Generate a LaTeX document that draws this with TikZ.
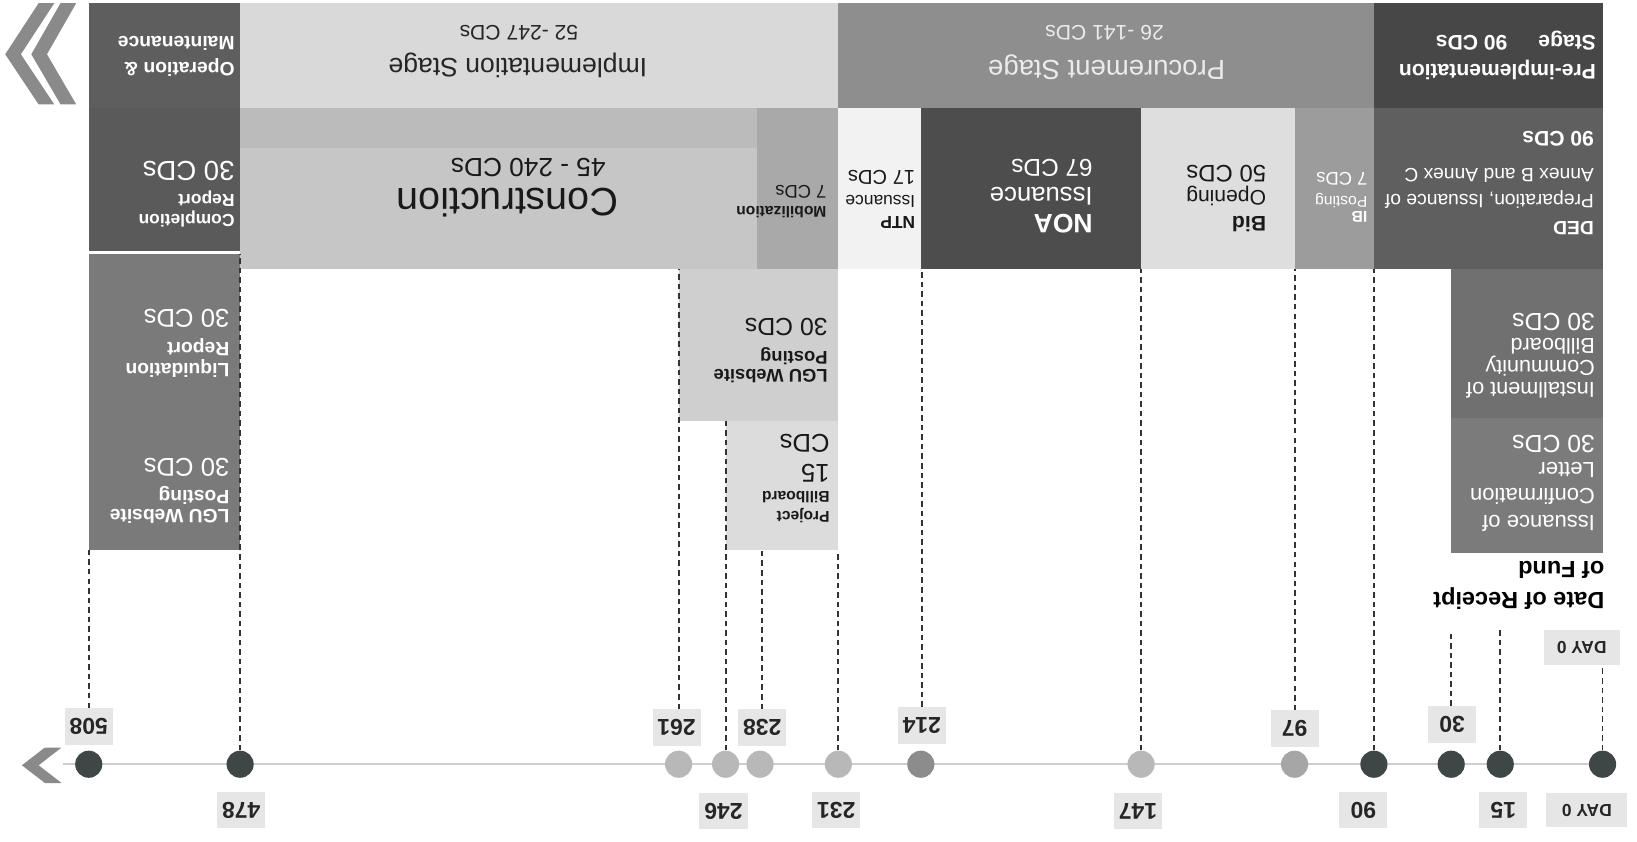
\documentclass[tikz,border=0pt]{standalone}
\usepackage{fontspec}
\setmainfont{Liberation Sans}
\usetikzlibrary{fit}
\definecolor{cPre}{HTML}{474747}
\definecolor{cProc}{HTML}{8E8E8E}
\definecolor{cImpl}{HTML}{D9D9D9}
\definecolor{cOM}{HTML}{5E5E5E}
\definecolor{cDED}{HTML}{5F5F5F}
\definecolor{cIB}{HTML}{9C9C9C}
\definecolor{cBid}{HTML}{DEDEDE}
\definecolor{cNOA}{HTML}{4D4D4D}
\definecolor{cNTP}{HTML}{F2F2F2}
\definecolor{cMob}{HTML}{A9A9A9}
\definecolor{cCon}{HTML}{C6C6C6}
\definecolor{cConB}{HTML}{BBBBBB}
\definecolor{cComp}{HTML}{5A5A5A}
\definecolor{cLiq}{HTML}{7A7A7A}
\definecolor{cLGUm}{HTML}{CFCFCF}
\definecolor{cPB}{HTML}{DCDCDC}
\definecolor{cInst}{HTML}{707070}
\definecolor{cConf}{HTML}{7B7B7B}
\definecolor{cChev}{HTML}{8A8A8A}
\definecolor{cLab}{HTML}{E6E6E6}
\definecolor{cDotD}{HTML}{3F4646}
\definecolor{cDotM}{HTML}{8C8C8C}
\definecolor{cDotL}{HTML}{B8B8B8}
\definecolor{cLine}{HTML}{CDCDCD}
\definecolor{cDash}{HTML}{333333}
\newcommand\fs[2]{\fontsize{#1}{#2}\selectfont}
\begin{document}
\begin{tikzpicture}[x=0.02cm,y=-0.02cm,
  box/.style={inner sep=0pt, outer sep=0pt, draw=none},
  tr/.style={rotate=180, anchor=west, align=left, inner sep=0pt},
  tc/.style={rotate=180, align=center, inner sep=0pt},
  dot/.style={circle, minimum size=0.52cm, inner sep=0pt},
  lab/.style={fill=cLab, minimum width=0.92cm, minimum height=0.7cm, inner sep=0pt, text=black!85, font=\bfseries\fs{12.5}{14}},
  daylab/.style={fill=cLab, minimum width=1.45cm, minimum height=0.66cm, inner sep=0pt, text=black!85, font=\bfseries\fs{9.5}{11}},
  dsh/.style={draw=cDash, line width=1pt, dash pattern=on 3pt off 2.2pt},
  tl/.style={draw=cLine, line width=1pt}
]
\useasboundingbox (0,0) rectangle (1568,806);

% ---------- top chevrons ----------
\fill[cChev] (5,52) -- (37,3) -- (52,3) -- (20,52) -- (52,100) -- (37,100) -- cycle;
\fill[cChev] (30,52) -- (58,3) -- (73,3) -- (45,52) -- (73,100) -- (58,100) -- cycle;

% ---------- stage row ----------
\node[box, fill=cOM,   fit={(85,3) (230,103)}]    (om) {};
\node[box, fill=cImpl, fit={(230,3) (803,103)}]   (impl) {};
\node[box, fill=cProc, fit={(803,3) (1316,103)}]  (proc) {};
\node[box, fill=cPre,  fit={(1316,3) (1535,103)}] (pre) {};

\node[tr, text=white, font=\bfseries\fs{10.5}{13.7}] (tom) at (225,54) {Operation \&\\Maintenance};
\node[tc, text=black!85, font=\fs{14.5}{16}] (timpl) at (496,63) {Implementation Stage};
\node[tc, text=black!85, font=\fs{11.5}{13}] (timpl2) at (497,31) {52 -247 CDs};
\node[tc, text=white!92!black, font=\fs{15}{17}] (tproc) at (1060,64) {Procurement Stage};
\node[tc, text=white!92!black, font=\fs{11.5}{13}] (tproc2) at (1058,31) {26 -141 CDs};
\node[tr, text=white, font=\bfseries\fs{11.5}{16}] (tpre) at (1529,53) {Pre-implementation\\Stage\hspace{17pt}90 CDs};

% ---------- activity row ----------
\node[box, fill=cComp, fit={(85,103) (230,240)}]   (comp) {};
\node[box, fill=cCon,  fit={(230,103) (725,258)}]  (con) {};
\node[box, fill=cConB, fit={(230,103) (725,142)}]  (conband) {};
\node[box, fill=cMob,  fit={(725,103) (803,258)}]  (mob) {};
\node[box, fill=cNTP,  fit={(803,103) (882,258)}]  (ntp) {};
\node[box, fill=cNOA,  fit={(882,103) (1093,258)}] (noa) {};
\node[box, fill=cBid,  fit={(1093,103) (1240,258)}] (bid) {};
\node[box, fill=cIB,   fit={(1240,103) (1316,258)}] (ib) {};
\node[box, fill=cDED,  fit={(1316,103) (1535,258)}] (ded) {};

\node[tr, text=white, font=\bfseries\fs{9.5}{10.8}] (tcomp) at (225,186)
  {Completion\\Report\\[4.6pt]{\mdseries\fs{15}{16}30 CDs}};
\node[tc, text=black!90, font=\fs{21.5}{24}] (tcon) at (486,194) {Construction};
\node[tc, text=black!90, font=\fs{14.3}{16}] (tcon2) at (506,160) {45 - 240 CDs};
\node[tr, text=black!90, font=\bfseries\fs{8.5}{11.4}] (tmob) at (792,193)
  {Mobilization\\{\mdseries\fs{10}{11}7 CDs}};
\node[tr, text=black!90, font=\fs{9.5}{11.4}] (tntp) at (877,191)
  {{\bfseries NTP}\\Issuance\\[2pt]{\fs{11}{12}17 CDs}};
\node[tr, text=white, font=\fs{14}{14.8}] (tnoa) at (1047,188)
  {{\bfseries\fs{14.5}{15}NOA}\\Issuance\\{\fs{13.3}{14}67 CDs}};
\node[tr, text=black!90, font=\fs{11.5}{14}] (tbid) at (1213,190)
  {{\bfseries Bid}\\Opening\\{\fs{13}{14}50 CDs}};
\node[tr, text=white, font=\fs{8.5}{8.5}] (tib) at (1310,189)
  {{\bfseries IB}\\Posting\\[3.5pt]{\fs{10}{11}7 CDs}};
\node[tr, text=white, font=\fs{10.5}{14.2}] (tded) at (1527,175)
  {{\bfseries DED}\\Preparation, Issuance of\\Annex B and Annex C\\[6.3pt]{\bfseries\fs{11.5}{13}90 CDs}};

% ---------- lower boxes ----------
\node[box, fill=cLiq,  fit={(85,243) (230,385)}]   (liq) {};
\node[box, fill=cLiq,  fit={(85,385) (230,527)}]   (lgul) {};
\node[box, fill=cLGUm, fit={(650,258) (803,403)}]  (lgum) {};
\node[box, fill=cPB,   fit={(695,403) (803,527)}]  (pb) {};
\node[box, fill=cInst, fit={(1390,258) (1535,400)}] (inst) {};
\node[box, fill=cConf, fit={(1390,400) (1535,530)}] (conf) {};

\node[tr, text=white, font=\bfseries\fs{10.5}{11.4}] (tliq) at (220,329)
  {Liquidation\\Report\\[5pt]{\mdseries\fs{14}{15}30 CDs}};
\node[tr, text=white, font=\bfseries\fs{10.5}{10.5}] (tlgul) at (220,470)
  {LGU Website\\Posting\\[4.5pt]{\mdseries\fs{14}{15}30 CDs}};
\node[tr, text=black!90, font=\bfseries\fs{10}{10}] (tlgum) at (793,336)
  {LGU Website\\Posting\\[5.5pt]{\mdseries\fs{13.5}{15}30 CDs}};
\node[tr, text=black!90, font=\bfseries\fs{8.5}{10.8}] (tpb) at (795,458)
  {Project\\Billboard\\[4pt]{\mdseries\fs{14}{16}15}\\[5.7pt]{\mdseries\fs{14}{16}CDs}};
\node[tr, text=white, font=\fs{11.8}{12}] (tinst) at (1528,341)
  {Installment of\\Community\\Billboard\\[1.8pt]{\fs{13.5}{15}30 CDs}};
\node[tr, text=white, font=\fs{12}{14.5}] (tconf) at (1528,463)
  {Issuance of\\Confirmation\\Letter\\{\fs{13.5}{15}30 CDs}};
\node[tr, text=black, font=\bfseries\fs{12.8}{17}] (trec) at (1537,561)
  {Date of Receipt\\of Fund};

% ---------- timeline ----------
\coordinate (tlL) at (60,732);
\coordinate (tlR) at (1535,732);
\draw[tl] (tlL) -- (tlR);
\fill[cChev] (21,733) -- (43,716) -- (59,716) -- (37,733) -- (59,750) -- (43,750) -- cycle;

\node[dot, fill=cDotD] (d0)   at (1535,732) {};
\node[dot, fill=cDotD] (d15)  at (1437,732) {};
\node[dot, fill=cDotD] (d30)  at (1390,732) {};
\node[dot, fill=cDotD] (d90)  at (1316,732) {};
\node[dot, fill=cDotL!90!black] (d97)  at (1240,732) {};
\node[dot, fill=cDotL] (d147) at (1093,732) {};
\node[dot, fill=cDotM] (d214) at (882,732) {};
\node[dot, fill=cDotL] (d231) at (803,732) {};
\node[dot, fill=cDotL] (d238) at (728,732) {};
\node[dot, fill=cDotL] (d246) at (695,732) {};
\node[dot, fill=cDotL] (d261) at (650,732) {};
\node[dot, fill=cDotD] (d478) at (230,732) {};
\node[dot, fill=cDotD] (d508) at (85,732) {};

% labels above
\node[daylab] (l0t) at (1515,620) {\rotatebox{180}{DAY 0}};
\node[lab] (l30)  at (1391,694) {\rotatebox{180}{30}};
\node[lab] (l97)  at (1240,698) {\rotatebox{180}{97}};
\node[lab] (l214) at (883,695)  {\rotatebox{180}{214}};
\node[lab] (l238) at (730,697)  {\rotatebox{180}{238}};
\node[lab] (l261) at (648,697)  {\rotatebox{180}{261}};
\node[lab] (l508) at (85,696)   {\rotatebox{180}{508}};
% labels below
\node[daylab, minimum width=1.55cm] (l0b) at (1520,776) {\rotatebox{180}{DAY 0}};
\node[lab] (l15)  at (1440,776) {\rotatebox{180}{15}};
\node[lab] (l90)  at (1306,776) {\rotatebox{180}{90}};
\node[lab] (l147) at (1090,777) {\rotatebox{180}{147}};
\node[lab] (l231) at (801,776)  {\rotatebox{180}{231}};
\node[lab] (l246) at (693,777)  {\rotatebox{180}{246}};
\node[lab] (l478) at (231,776)  {\rotatebox{180}{478}};

% ---------- dashed guides ----------
\coordinate (e15) at (1437,603);
\coordinate (e30) at (1390,606);
\draw[dsh] (d0.north) -- (d0 |- l0t.south);
\draw[dsh] (d15.north) -- (e15);
\draw[dsh] (l30.north -| e30) -- (e30);
\draw[dsh] (d90.north) -- (d90 |- ded.south);
\draw[dsh] (l97.north) -- (l97 |- ib.south);
\draw[dsh] (d147.north) -- (d147 |- bid.south);
\draw[dsh] (l214.north) -- (l214 |- noa.south);
\draw[dsh] (d231.north) -- (d231 |- pb.south);
\draw[dsh] (l238.north) -- (l238 |- pb.south);
\draw[dsh] (d246.north) -- (d246 |- lgum.south);
\draw[dsh] (l261.north -| lgum.west) -- (lgum.north west);
\draw[dsh] (d478.north) -- (d478 |- liq.north);
\draw[dsh] (l508.north) -- (l508 |- lgul.south);
\end{tikzpicture}
\end{document}
